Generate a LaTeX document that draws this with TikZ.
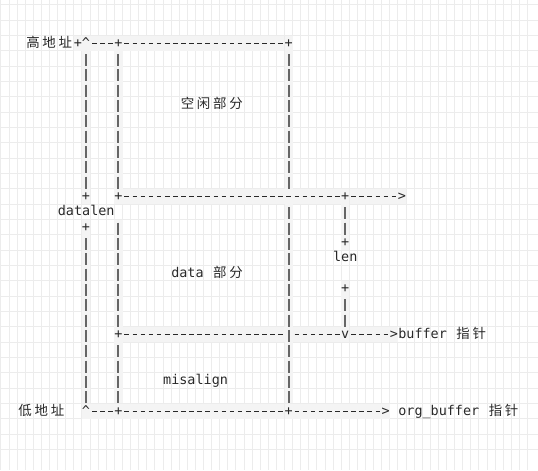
\documentclass[tikz,border=0pt]{standalone}
\usepackage{fontspec}
\setmonofont{DejaVu Sans Mono}
\newfontfamily\cjk{Noto Sans CJK SC}
\usepackage{tikz}
\usetikzlibrary{positioning}
\definecolor{gridcol}{RGB}{236,236,236}
\definecolor{hlcol}{RGB}{244,244,244}
\definecolor{inkcol}{RGB}{40,40,40}
\definecolor{barcol}{RGB}{102,102,102}
\newcommand{\cc}[1]{\makebox[16.2pt]{\cjk #1}}
\newcommand{\gap}{\hspace{8.1pt}}

\begin{document}
\begin{tikzpicture}[x=8.1pt,y=-15.333pt,font=\ttfamily\fontsize{13.45}{15.33}\selectfont]
\tikzstyle{txt}=[inner sep=0pt,text height=11pt,text depth=3pt,text=inkcol]
\tikzstyle{jnode}=[txt,fill=hlcol,minimum width=8.1pt,minimum height=15.333pt]
\tikzstyle{hline}=[draw=inkcol,line width=0.9pt,dash pattern=on 4.6pt off 3.5pt,dash phase=6.35pt,
  preaction={draw=hlcol,line width=15.333pt,solid}]
\tikzstyle{vline}=[draw=barcol,line width=2pt,dash pattern=on 12pt off 3.333pt,dash phase=12.333pt,
  preaction={draw=hlcol,line width=8.1pt,solid}]
\useasboundingbox (-3.623,-2.8175) rectangle (62.796,27.8355);
% background grid
\foreach \c in {-3,...,62}
  \draw[gridcol,line width=1pt] (\c-0.5,-2.8175) -- (\c-0.5,27.8355);
\foreach \r in {-2,...,27}
  \draw[gridcol,line width=1pt] (-3.623,\r-0.5) -- (62.796,\r-0.5);
% top row
\node [jnode] (hiplus) at (6,0) {+};
\node [jnode] (hitop) at (7,0) {\textasciicircum};
\node [jnode] (t11) at (11,0) {+};
\node [jnode] (t32) at (32,0) {+};
\node [txt,left=0pt of hiplus] (hi) {\cc{高}\cc{地}\cc{址}};
\node [txt,anchor=west] (free) at (18.5,4) {\cc{空}\cc{闲}\cc{部}\cc{分}};
% data top
\node [jnode] (m7) at (7,10) {+};
\node [jnode] (m11) at (11,10) {+};
\node [jnode] (m39) at (39,10) {+};
\node [jnode] (m46) at (46,10) {>};
\node [txt,anchor=west] (dlen) at (3.5,11) {datalen};
\node [jnode] (d7) at (7,12) {+};
\node [jnode] (ltop) at (39,13) {+};
\node [txt] (len) at (39,14) {len};
\node [txt,anchor=west] (data) at (17.5,15) {data\gap\cc{部}\cc{分}};
\node [jnode] (lbot) at (39,16) {+};
% buffer row
\node [jnode] (b11) at (11,19) {+};
\node [jnode] (b39) at (39,19) {v};
\node [jnode] (b45) at (45,19) {>};
\node [txt,right=0pt of b45] (buf) {buffer\gap\cc{指}\cc{针}};
\node [txt,anchor=west] (mis) at (16.5,22) {misalign};
% bottom row
\node [jnode] (lo7) at (7,24) {\textasciicircum};
\node [jnode] (lo11) at (11,24) {+};
\node [jnode] (lo32) at (32,24) {+};
\node [jnode] (lo44) at (44,24) {>};
\node [txt,right=8.1pt of lo44] (org) {org\_buffer\gap\cc{指}\cc{针}};
\node [txt,anchor=east] (lo) at (4.5,24) {\cc{低}\cc{地}\cc{址}};
\coordinate (x32n) at (32,9.5);
\coordinate (x32s) at (32,10.5);
\coordinate (gap11) at (11,11.5);
\path
    (hitop) edge[hline] (t11)
    (t11) edge[hline] (t32)
    (m11) edge[hline] (m39)
    (m39) edge[hline] (m46)
    (b11) edge[hline] (b39)
    (b39) edge[hline] (b45)
    (lo7) edge[hline] (lo11)
    (lo11) edge[hline] (lo32)
    (lo32) edge[hline] (lo44);
\path
    (hitop) edge[vline] (m7)
    (t11) edge[vline] (m11)
    (t32) edge[vline] (x32n)
    (x32s) edge[vline] (lo32)
    (gap11) edge[vline] (b11)
    (b11) edge[vline] (lo11)
    (d7) edge[vline] (lo7)
    (m39) edge[vline] (ltop)
    (lbot) edge[vline] (b39);
\end{tikzpicture}
\end{document}
